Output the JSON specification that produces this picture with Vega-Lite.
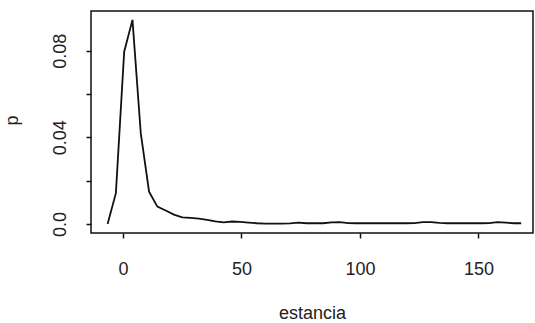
{
  "$schema": "https://vega.github.io/schema/vega-lite/v6.json",
  "autosize": {"type": "none"},
  "padding": {"left": 91, "top": 11, "right": 2, "bottom": 90},
  "width": 442,
  "height": 222,
  "background": "white",
  "config": {
    "view": {"stroke": "#111", "strokeWidth": 1.5},
    "font": "Liberation Sans"
  },
  "data": {
    "values": [
      {"estancia": -6.5, "p": 0.0},
      {"estancia": -3.0, "p": 0.0142},
      {"estancia": 0.5, "p": 0.0795},
      {"estancia": 4.0, "p": 0.0942},
      {"estancia": 7.5, "p": 0.0419},
      {"estancia": 11.0, "p": 0.0149},
      {"estancia": 14.5, "p": 0.0080},
      {"estancia": 18.0, "p": 0.0062},
      {"estancia": 21.5, "p": 0.0043},
      {"estancia": 25.0, "p": 0.0030},
      {"estancia": 28.5, "p": 0.0028},
      {"estancia": 32.0, "p": 0.0024},
      {"estancia": 35.5, "p": 0.0019},
      {"estancia": 39.0, "p": 0.0012},
      {"estancia": 42.5, "p": 0.0007},
      {"estancia": 46.0, "p": 0.0011},
      {"estancia": 49.5, "p": 0.0009},
      {"estancia": 53.0, "p": 0.0006},
      {"estancia": 56.5, "p": 0.0003},
      {"estancia": 60.0, "p": 0.0001},
      {"estancia": 63.5, "p": 0.0001},
      {"estancia": 67.0, "p": 0.0001},
      {"estancia": 70.5, "p": 0.0002},
      {"estancia": 74.0, "p": 0.0006},
      {"estancia": 77.5, "p": 0.0003},
      {"estancia": 81.0, "p": 0.0003},
      {"estancia": 84.5, "p": 0.0003},
      {"estancia": 88.0, "p": 0.0007},
      {"estancia": 91.5, "p": 0.0008},
      {"estancia": 95.0, "p": 0.0004},
      {"estancia": 98.5, "p": 0.0003},
      {"estancia": 102.0, "p": 0.0003},
      {"estancia": 105.5, "p": 0.0003},
      {"estancia": 109.0, "p": 0.0003},
      {"estancia": 112.5, "p": 0.0003},
      {"estancia": 116.0, "p": 0.0003},
      {"estancia": 119.5, "p": 0.0003},
      {"estancia": 123.0, "p": 0.0004},
      {"estancia": 126.5, "p": 0.0008},
      {"estancia": 130.0, "p": 0.0008},
      {"estancia": 133.5, "p": 0.0005},
      {"estancia": 137.0, "p": 0.0003},
      {"estancia": 140.5, "p": 0.0003},
      {"estancia": 144.0, "p": 0.0003},
      {"estancia": 147.5, "p": 0.0003},
      {"estancia": 151.0, "p": 0.0003},
      {"estancia": 154.5, "p": 0.0004},
      {"estancia": 158.0, "p": 0.0008},
      {"estancia": 161.5, "p": 0.0006},
      {"estancia": 165.0, "p": 0.0003},
      {"estancia": 168.0, "p": 0.0003}
    ]
  },
  "mark": {"type": "line", "color": "#111", "strokeWidth": 1.8},
  "encoding": {
    "x": {
      "field": "estancia",
      "type": "quantitative",
      "scale": {"domain": [-13.5, 173], "nice": false, "zero": false},
      "axis": {
        "values": [0, 50, 100, 150],
        "grid": false,
        "domain": false,
        "ticks": true,
        "tickSize": 5,
        "tickColor": "#111",
        "tickWidth": 1.5,
        "labelFontSize": 18,
        "labelColor": "#222",
        "labelPadding": 22,
        "title": "estancia",
        "titleFontSize": 18,
        "titleFontWeight": "normal",
        "titleColor": "#222",
        "titlePadding": 26
      }
    },
    "y": {
      "field": "p",
      "type": "quantitative",
      "scale": {"domain": [-0.0042, 0.0983], "nice": false, "zero": false},
      "axis": {
        "values": [0, 0.02, 0.04, 0.06, 0.08],
        "labelExpr": "datum.value == 0 ? '0.0' : (datum.value == 0.04 ? '0.04' : (datum.value == 0.08 ? '0.08' : ''))",
        "grid": false,
        "domain": false,
        "tickSize": 5,
        "tickColor": "#111",
        "tickWidth": 1.5,
        "labelAngle": -90,
        "labelAlign": "center",
        "labelBaseline": "bottom",
        "labelFontSize": 18,
        "labelColor": "#222",
        "labelPadding": 17,
        "title": "p",
        "titleFontSize": 18,
        "titleFontWeight": "normal",
        "titleColor": "#222",
        "titleAngle": -90,
        "titleAlign": "center",
        "titleBaseline": "bottom",
        "titleX": -70,
        "titleY": 109
      }
    }
  }
}
